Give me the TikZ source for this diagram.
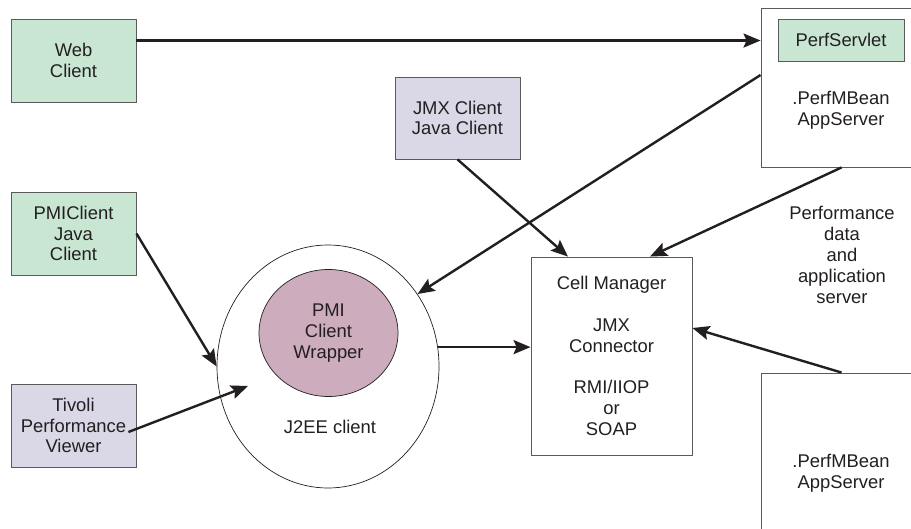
\documentclass[tikz,border=0pt]{standalone}
\usepackage{fontspec}
\setmainfont{Liberation Sans}
\usetikzlibrary{arrows.meta,shapes.geometric}
\definecolor{cgreen}{RGB}{200,230,210}
\definecolor{cpurple}{RGB}{218,215,230}
\definecolor{cmauve}{RGB}{205,172,190}
\definecolor{cborder}{RGB}{90,90,90}
\definecolor{ctext}{RGB}{35,31,32}
\begin{document}
\begin{tikzpicture}[x=1pt,y=-1pt,
  every node/.style={font=\fontsize{18.4pt}{20.8pt}\selectfont, align=center, inner sep=0pt, text=ctext},
  box/.style={draw=cborder, line width=0.9pt, rectangle, anchor=center},
  gbox/.style={box, fill=cgreen},
  pbox/.style={box, fill=cpurple},
  wbox/.style={box, fill=white},
  conn/.style={line width=2.4pt, draw=ctext, -{Stealth[length=17pt,width=14pt,inset=3pt]}}
]
\useasboundingbox (0,0) rectangle (911,529);
\fill[white] (0,0) rectangle (911,529);
\clip (0,0) rectangle (911,529);

% client boxes
\node[gbox, minimum width=125pt, minimum height=83pt] (web) at (73.5,60.5) {Web\\Client};
\node[gbox, minimum width=125pt, minimum height=83pt] (pmic) at (73.5,233.5) {PMIClient\\Java\\Client};
\node[pbox, minimum width=125pt, minimum height=83pt] (tiv) at (73.5,425.5) {Tivoli\\Performance\\Viewer};
\node[pbox, minimum width=125pt, minimum height=82pt] (jmx) at (457.5,118) {JMX Client\\Java Client};

% app servers
\node[wbox, minimum width=154pt, minimum height=159pt] (apptop) at (838,87.5) {};
\node[gbox, minimum width=126pt, minimum height=42pt] (servlet) at (841,40) {PerfServlet};
\node (toptext) at (841,110) {.PerfMBean\\AppServer};
\node[wbox, minimum width=154pt, minimum height=172pt] (bot) at (838,459) {};
\node (bottext) at (841,473.5) {.PerfMBean\\AppServer};

% cell manager
\node[wbox, minimum width=161pt, minimum height=198pt] (cell) at (611.5,356)
  {Cell Manager\\ \\JMX\\Connector\\ \\RMI/IIOP\\or\\SOAP};

% J2EE client
\node[draw=ctext, ellipse, line width=0.7pt, fill=white, minimum width=222pt, minimum height=243pt] (outer) at (328,366.5) {};
\node[draw=ctext, ellipse, line width=0.7pt, fill=cmauve, minimum width=139pt, minimum height=127pt] (inner) at (328.5,333) {PMI\\Client\\Wrapper};
\node (j2ee) at (330,427) {J2EE client};

\node (perf) at (842,255) {Performance\\data\\and\\application\\server};

% connectors
\coordinate (w1) at ([yshift=-22pt]web.north east);
\draw[conn] (w1) -- (w1 -| apptop.west);
\draw[conn] ([yshift=12.5pt]apptop.west) -- (outer.39);
\draw[conn] (jmx.south) -- ([xshift=-43.5pt]cell.north);
\draw[conn] ([xshift=81pt]apptop.south west) -- ([xshift=38.5pt]cell.north);
\draw[conn] (pmic.east) -- (outer.west);
\coordinate (tivend) at (248,386);
\draw[conn] ([xshift=-8pt,yshift=-6.5pt]tiv.east) -- (tivend);
\draw[conn] (outer.10) -- (outer.10 -| cell.west);
\draw[conn] ([xshift=81pt]bot.north west) -- ([yshift=28pt]cell.east);
\end{tikzpicture}
\end{document}
